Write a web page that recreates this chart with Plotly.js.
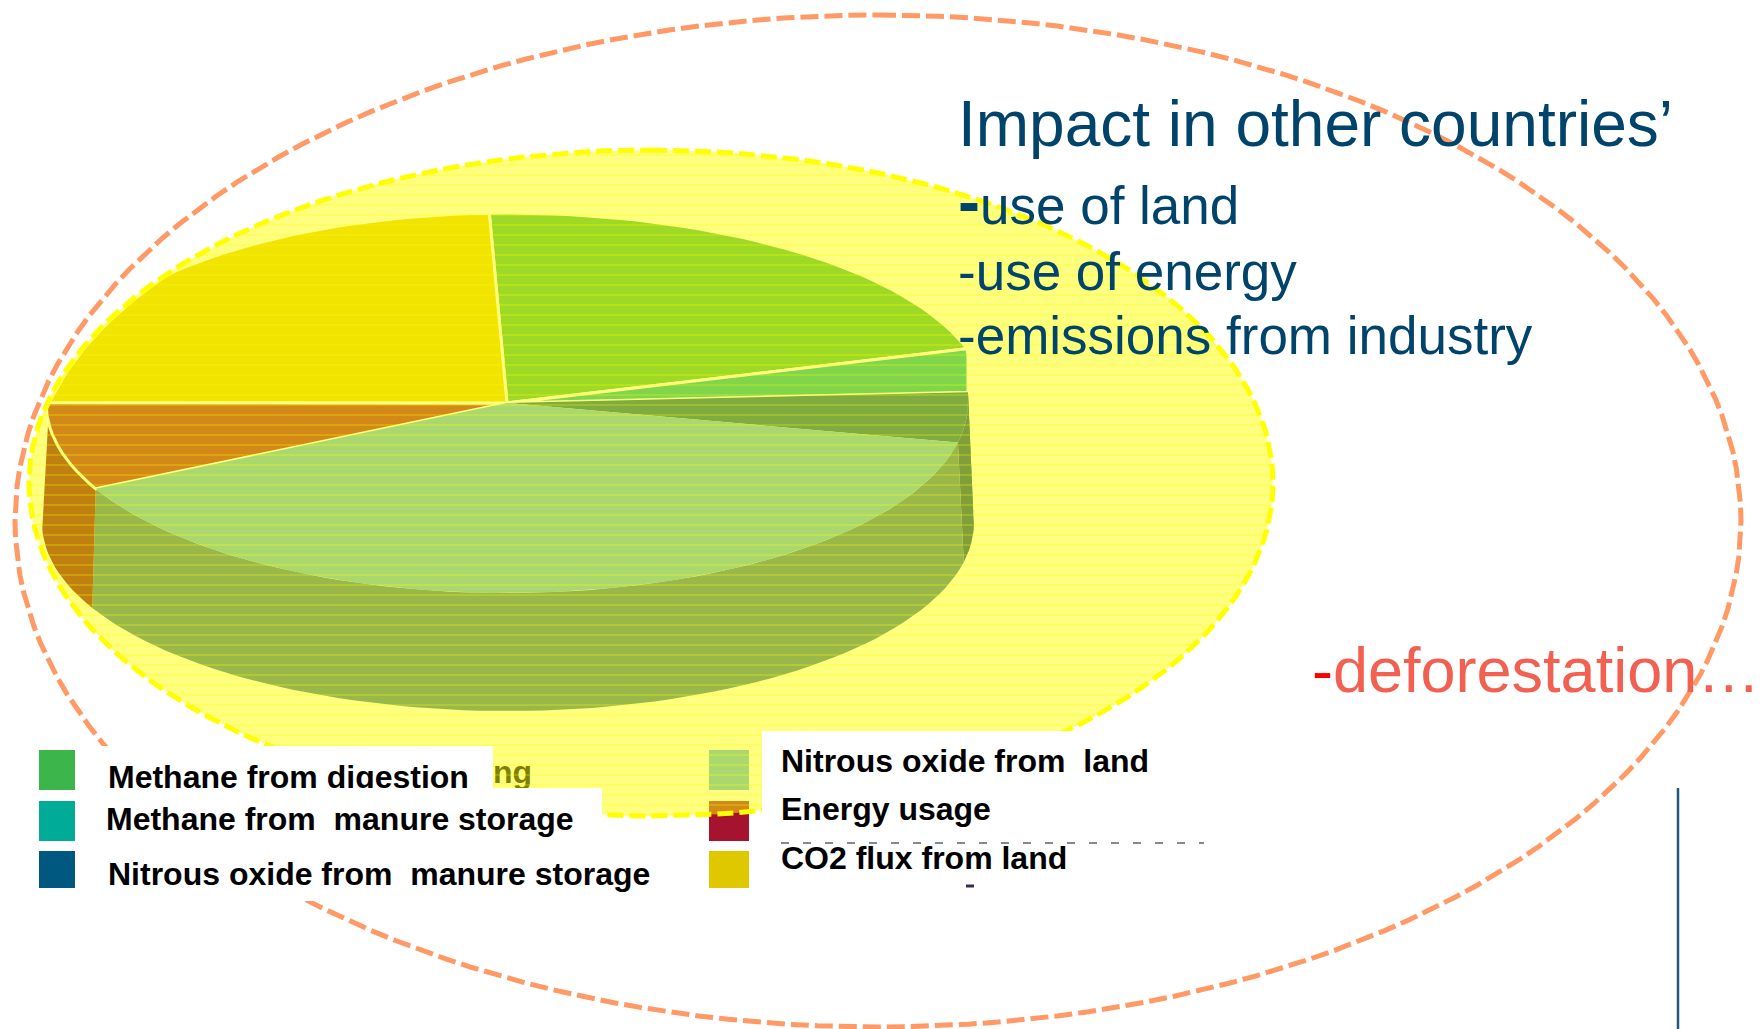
<!DOCTYPE html>
<html>
<head>
<meta charset="utf-8">
<script src="https://cdn.plot.ly/plotly-3.0.1.min.js"></script>
<style>html,body{margin:0;padding:0;background:#fff;overflow:hidden}#chart{width:1762px;height:1029px}</style>
</head>
<body>
<div id="chart"></div>
<script>
// Emission sources, clockwise from the top of the pie (share of total, %)
const categories = ['Methane from digestion', 'Methane from\u00a0 manure storage', 'Nitrous oxide from\u00a0 manure storage', 'Nitrous oxide from\u00a0 land', 'Energy usage', 'CO2 flux from land'];
const shares = [21.0, 3.7, 4.25, 39.2, 7.5, 24.35];
const sliceColors = ['#3CB54A', '#00AB97', '#005780', '#55B0DF', '#A6132E', '#E0C800'];
const wallColors = ['#1E7A30', '#007060', '#003F74', '#356F95', '#800020', '#908000'];

const headline = 'Impact in other countries\u2019';
const bullets = ['<span style="font-size:66px;font-weight:bold">-</span>use of land', '-use of energy', '-emissions from industry'];
const redNote = '<span style="color:#ff0000">-</span>deforestation\u2026';

const FONT = '"Liberation Sans", Arial, sans-serif';
const NAVY = '#00436B';
const traces = [];

// Yellow highlight ellipse; the pie never spills past its left side
const glow = {cx: 651, cy: 483, rx: 622, ry: 333};
function glowLeft(y) {
  const d = (y - glow.cy) / glow.ry;
  return glow.cx - glow.rx * Math.sqrt(Math.max(0, 1 - d * d));
}

// Pie geometry in page pixels: the top face and the rim below it.
// The face has a fuller upper-right shoulder that stops at a straight right edge.
const face = {cx: 507, cy: 403, rx: 461, ry: 190, shoulderRx: 480, maxX: 968, inGlow: true};
const rim = {cx: 508, cy: 523, rx: 466, ry: 188, inGlow: true};
const startDeg = -2.2;

function arc(e, a, b) {
  const n = Math.max(2, Math.ceil(Math.abs(b - a) / 2));
  const xs = [], ys = [];
  for (let i = 0; i <= n; i++) {
    const t = (a + (b - a) * i / n) * Math.PI / 180;
    const s = Math.sin(t), c = Math.cos(t);
    const rx = (e.shoulderRx && s > 0 && c > 0) ? e.shoulderRx : e.rx;
    let x = e.cx + rx * s;
    const y = e.cy - e.ry * c;
    if (e.maxX) x = Math.min(x, e.maxX);
    if (e.inGlow) x = Math.max(x, glowLeft(y) + 2);
    xs.push(x);
    ys.push(y);
  }
  return {xs, ys};
}
function poly(xs, ys, fill, line) {
  traces.push({
    type: 'scatter', mode: 'lines', x: xs.concat(xs[0]), y: ys.concat(ys[0]),
    fill: 'toself', fillcolor: fill,
    line: line || {width: 0, color: fill}
  });
}
function rect(x0, x1, y0, y1, fill) { poly([x0, x1, x1, x0], [y0, y0, y1, y1], fill); }
function outline(e, color, width, dash) {
  const a = arc(e, 0, 360);
  traces.push({type: 'scatter', mode: 'lines', x: a.xs, y: a.ys, line: {color, width, dash}});
}
function label(x, y, text, size, color, bold) {
  traces.push({
    type: 'scatter', mode: 'text', x: [x], y: [y], text: [bold ? '<b>' + text + '</b>' : text],
    textposition: 'middle right', cliponaxis: false,
    textfont: {family: FONT, size, color}
  });
}

// Slice boundaries in degrees
const total = shares.reduce((s, v) => s + v, 0);
const bounds = [startDeg];
shares.forEach(v => bounds.push(bounds[bounds.length - 1] + v / total * 360));

// Rim walls of the slices facing the viewer
shares.forEach((v, i) => {
  const a = Math.max(bounds[i], 80), b = Math.min(bounds[i + 1], 270);
  if (b - a < 1) return;
  const top = arc(face, a, b), low = arc(rim, b, a);
  poly(top.xs.concat(low.xs), top.ys.concat(low.ys), wallColors[i]);
});

// Top faces; the nitrous oxide slices have no gap around them
const drawOrder = [0, 1, 2, 4, 5, 3];
drawOrder.forEach(i => {
  const a = arc(face, bounds[i], bounds[i + 1]);
  const seam = (i === 2 || i === 3) ? null : {color: '#ffffff', width: 3};
  poly([face.cx].concat(a.xs), [face.cy].concat(a.ys), sliceColors[i], seam);
});

// Legend swatches that sit beneath the highlight
rect(709, 749, 750, 790, sliceColors[3]);
rect(709, 749, 801, 841, sliceColors[4]);

label(493, 775, 'ng', 32, '#000000', true);

// Highlight fill and its dashed edge
const g = arc(glow, 0, 360);
traces.push({
  type: 'scatter', mode: 'lines', x: g.xs, y: g.ys, fill: 'toself',
  fillcolor: 'rgba(255,255,0,0.5)',
  fillpattern: {shape: '-', size: 10, solidity: 0.1, fgcolor: '#ffff00', fgopacity: 0.45, bgcolor: 'rgba(255,255,0,0.5)'},
  line: {color: '#ffff00', width: 5, dash: '16px,6px'}
});

// Wider dashed boundary
outline({cx: 878, cy: 521, rx: 863, ry: 506}, '#FF9966', 5, '18px,6px');

// Legend panel
rect(90, 493, 746, 788, '#ffffff');
label(108, 780, categories[0], 32, '#000000', true);
rect(90, 602, 788, 901, '#ffffff');
rect(762, 1110, 731, 900, '#ffffff');

rect(39, 75, 750, 790, sliceColors[0]);
rect(39, 75, 801, 841, sliceColors[1]);
rect(39, 75, 851, 888, sliceColors[2]);
rect(709, 749, 851, 888, sliceColors[5]);

label(106, 822, categories[1], 32, '#000000', true);
label(108, 877, categories[2], 32, '#000000', true);
label(781, 764, categories[3], 32, '#000000', true);
label(781, 812, categories[4], 32, '#000000', true);
label(781, 861, categories[5], 32, '#000000', true);

// Stray ticks around the last legend row
traces.push({type: 'scatter', mode: 'lines', x: [781, 1204], y: [843, 843], line: {color: '#111111', width: 1, dash: '8px,14px'}});
traces.push({type: 'scatter', mode: 'lines', x: [966, 974], y: [886, 886], line: {color: '#3A2A50', width: 3}});

// Vertical rule at the lower right
traces.push({type: 'scatter', mode: 'lines', x: [1678, 1678], y: [788, 1029], line: {color: '#1F5A7A', width: 2.5}});

// Commentary
label(958, 130, headline, 64, NAVY);
label(958, 211, bullets[0], 53, NAVY);
label(958, 277, bullets[1], 53, NAVY);
label(958, 341, bullets[2], 53, NAVY);
label(1312, 676, redNote, 63, '#F26052');

const hidden = {visible: false, fixedrange: true};
Plotly.newPlot('chart', traces, {
  width: 1762, height: 1029,
  margin: {l: 0, r: 0, t: 0, b: 0},
  paper_bgcolor: '#ffffff', plot_bgcolor: '#ffffff',
  showlegend: false, hovermode: false,
  xaxis: Object.assign({range: [0, 1762]}, hidden),
  yaxis: Object.assign({range: [1029, 0]}, hidden)
}, {displayModeBar: false, staticPlot: true});
</script>
</body>
</html>
